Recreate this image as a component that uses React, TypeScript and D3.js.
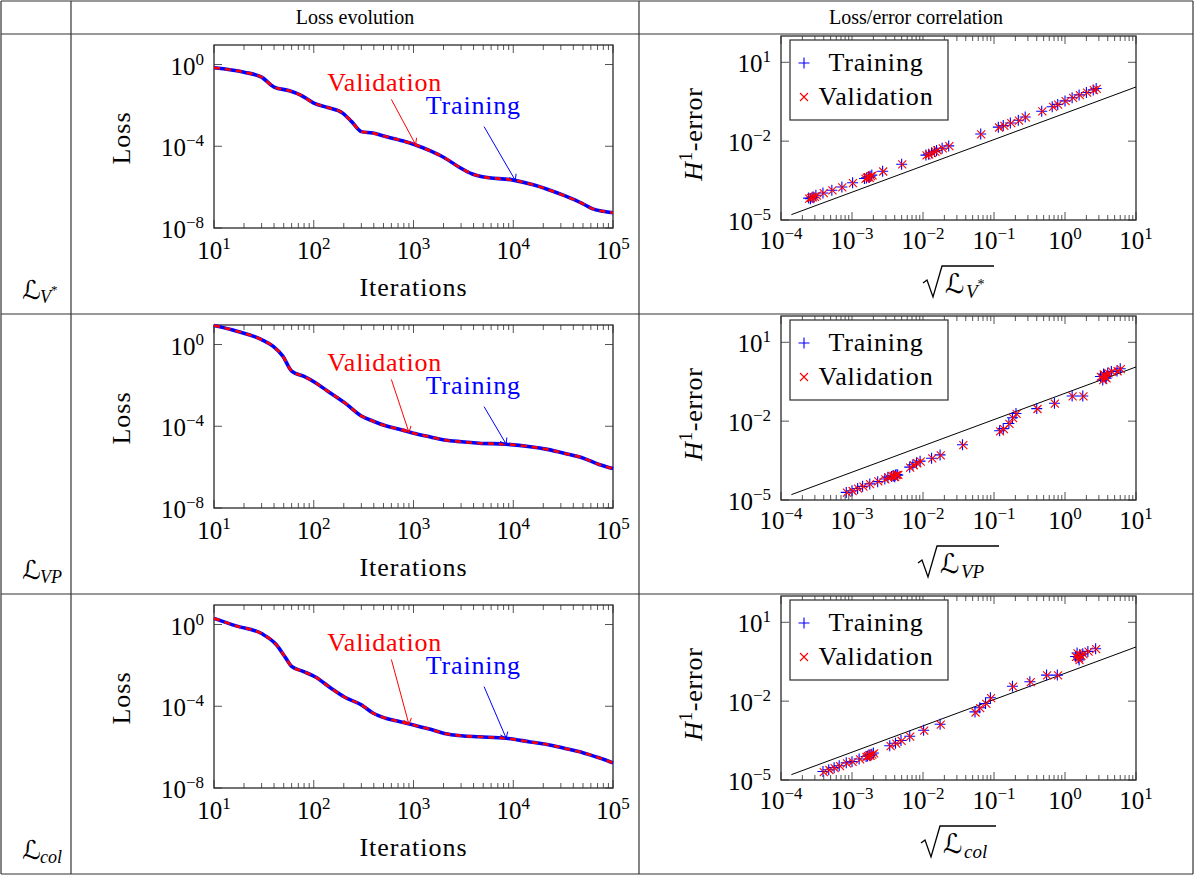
import React from 'react';
import * as d3 from 'd3';

// ---------- data ----------
const columnTitles = ['Loss evolution', 'Loss/error correlation'];
const rowSubs = ['V', 'VP', 'col'];
const rowSups = ['*', '', ''];

// loss evolution (training and validation curves coincide)
const iters1 = [10, 20, 30, 40, 57, 73, 100, 138, 195, 240, 300, 390, 525, 790, 1000, 1480, 2040, 2820, 3890, 4900, 10000, 16200, 21900, 33100, 49000, 61700, 79400, 100000];
const train1 = [0.69, 0.42, 0.24, 0.079, 0.052, 0.033, 0.013, 0.0079, 0.0042, 0.0016, 5.2e-4, 4.4e-4, 3.0e-4, 1.8e-4, 1.26e-4, 5.9e-5, 2.75e-5, 1.0e-5, 4.4e-6, 3.2e-6, 2.2e-6, 1.26e-6, 7.9e-7, 3.7e-7, 1.6e-7, 8.9e-8, 6.6e-8, 5.6e-8];
const valid1 = [0.69, 0.42, 0.24, 0.079, 0.052, 0.033, 0.013, 0.0079, 0.0042, 0.0016, 5.2e-4, 4.4e-4, 3.0e-4, 1.8e-4, 1.26e-4, 5.9e-5, 2.75e-5, 1.0e-5, 4.4e-6, 3.2e-6, 2.2e-6, 1.26e-6, 7.9e-7, 3.7e-7, 1.6e-7, 8.9e-8, 6.6e-8, 5.6e-8];

const iters2 = [10, 17, 30, 39, 49, 60, 79, 104, 138, 205, 300, 390, 525, 720, 1000, 1480, 2040, 3020, 4570, 8500, 14800, 21900, 33100, 49000, 72400, 100000];
const train2 = [8.5, 4.5, 1.74, 0.83, 0.27, 0.05, 0.028, 0.0135, 0.0052, 0.0014, 3.2e-4, 1.8e-4, 1.05e-4, 7.1e-5, 4.6e-5, 3.0e-5, 2.14e-5, 1.74e-5, 1.48e-5, 1.32e-5, 1.0e-5, 7.4e-6, 4.7e-6, 2.9e-6, 1.35e-6, 8.5e-7];
const valid2 = [8.5, 4.5, 1.74, 0.83, 0.27, 0.05, 0.028, 0.0135, 0.0052, 0.0014, 3.2e-4, 1.8e-4, 1.05e-4, 7.1e-5, 4.6e-5, 3.0e-5, 2.14e-5, 1.74e-5, 1.48e-5, 1.32e-5, 1.0e-5, 7.4e-6, 4.7e-6, 2.9e-6, 1.35e-6, 8.5e-7];

const iters3 = [10, 17, 30, 42, 51, 60, 79, 104, 148, 205, 300, 400, 525, 720, 1000, 1480, 2040, 3020, 4570, 8500, 14800, 21900, 33100, 49000, 72400, 100000];
const train3 = [2.0, 0.83, 0.36, 0.105, 0.028, 0.0089, 0.005, 0.0027, 7.8e-4, 2.75e-4, 1.17e-4, 4.4e-5, 2.6e-5, 1.78e-5, 1.2e-5, 7.4e-6, 4.7e-6, 3.6e-6, 3.2e-6, 2.7e-6, 1.8e-6, 1.35e-6, 8.5e-7, 5.5e-7, 3.0e-7, 1.7e-7];
const valid3 = [2.0, 0.83, 0.36, 0.105, 0.028, 0.0089, 0.005, 0.0027, 7.8e-4, 2.75e-4, 1.17e-4, 4.4e-5, 2.6e-5, 1.78e-5, 1.2e-5, 7.4e-6, 4.7e-6, 3.6e-6, 3.2e-6, 2.7e-6, 1.8e-6, 1.35e-6, 8.5e-7, 5.5e-7, 3.0e-7, 1.7e-7];

// annotation anchors [iterations, loss]
const valTextAt = [513, 0.14];
const valArrowFrom = [600, 1.95e-2];
const trainTextAt = [3980, 0.0105];
const trainArrowFrom = [5100, 9.1e-4];
const valTargets = [[1050, 1.2e-4], [900, 5.0e-5], [900, 1.3e-5]];
const trainTargets = [[10500, 2.1e-6], [8500, 1.32e-5], [8500, 2.7e-6]];

const lossYTicks = [1e-8, 1e-4, 1];
const errYTicks = [1e-5, 1e-2, 10];

// loss/error correlation: [sqrt(loss), H1 error]
const corrTrain1 = [[2.45e-4, 6.8e-5], [2.6e-4, 6.5e-5], [2.75e-4, 7.4e-5], [2.9e-4, 7.0e-5], [3.1e-4, 8.7e-5], [3.9e-4, 1.07e-4], [5.2e-4, 1.35e-4], [7.2e-4, 1.8e-4], [1.02e-3, 2.6e-4], [1.5e-3, 3.8e-4], [1.6e-3, 4.0e-4], [1.7e-3, 4.4e-4], [1.75e-3, 4.2e-4], [1.8e-3, 4.6e-4], [1.9e-3, 5.1e-4], [2.7e-3, 7.2e-4], [5.0e-3, 1.32e-3], [1.1e-2, 2.95e-3], [1.2e-2, 3.2e-3], [1.32e-2, 3.6e-3], [1.45e-2, 4.0e-3], [1.55e-2, 4.4e-3], [1.86e-2, 5.4e-3], [2.3e-2, 6.6e-3], [6.5e-2, 1.86e-2], [0.115, 3.4e-2], [0.135, 3.9e-2], [0.17, 4.9e-2], [0.22, 6.2e-2], [0.275, 8.3e-2], [0.47, 0.138], [0.66, 0.204], [0.79, 0.25], [1.0, 0.34], [1.26, 0.45], [1.58, 0.575], [2.0, 0.71], [2.5, 0.89], [2.75, 1.0]];
const corrValid1 = [[2.5e-4, 6.5e-5], [2.65e-4, 7.0e-5], [2.8e-4, 7.2e-5], [3.0e-4, 7.6e-5], [3.2e-4, 8.5e-5], [4.0e-4, 1.05e-4], [5.3e-4, 1.33e-4], [7.3e-4, 1.75e-4], [1.03e-3, 2.55e-4], [1.55e-3, 3.7e-4], [1.62e-3, 4.1e-4], [1.68e-3, 4.3e-4], [1.78e-3, 4.0e-4], [1.85e-3, 4.7e-4], [1.95e-3, 5.0e-4], [2.75e-3, 7.0e-4], [5.1e-3, 1.3e-3], [1.12e-2, 2.9e-3], [1.22e-2, 3.1e-3], [1.35e-2, 3.5e-3], [1.5e-2, 3.9e-3], [1.6e-2, 4.5e-3], [1.9e-2, 5.3e-3], [2.35e-2, 6.5e-3], [6.6e-2, 1.8e-2], [0.118, 3.3e-2], [0.14, 3.8e-2], [0.175, 4.8e-2], [0.225, 6.0e-2], [0.28, 8.0e-2], [0.48, 0.135], [0.68, 0.2], [0.8, 0.245], [1.02, 0.33], [1.3, 0.44], [1.62, 0.56], [2.05, 0.7], [2.55, 0.87], [2.8, 0.97]];

const corrTrain2 = [[8.3e-4, 1.95e-5], [1.0e-3, 2.24e-5], [1.2e-3, 2.75e-5], [1.41e-3, 3.3e-5], [1.78e-3, 4.1e-5], [2.3e-3, 5.0e-5], [2.9e-3, 6.3e-5], [3.2e-3, 7.4e-5], [3.6e-3, 7.9e-5], [3.8e-3, 8.5e-5], [3.9e-3, 8.0e-5], [4.0e-3, 7.6e-5], [4.1e-3, 9.0e-5], [4.3e-3, 9.3e-5], [4.4e-3, 8.8e-5], [6.5e-3, 1.78e-4], [7.2e-3, 2.2e-4], [8.1e-3, 2.6e-4], [9.1e-3, 3.0e-4], [1.32e-2, 3.9e-4], [1.74e-2, 5.2e-4], [3.6e-2, 1.26e-3], [0.12, 4.3e-3], [0.135, 5.2e-3], [0.162, 8.1e-3], [0.182, 1.35e-2], [0.204, 1.95e-2], [0.40, 3.0e-2], [0.71, 4.8e-2], [1.26, 9.1e-2], [1.78, 9.1e-2], [3.16, 0.5], [3.4, 0.37], [3.5, 0.62], [3.55, 0.575], [3.6, 0.52], [3.7, 0.45], [3.8, 0.43], [4.0, 0.68], [4.5, 0.78], [5.4, 0.81], [6.0, 0.98]];
const corrValid2 = [[8.5e-4, 1.9e-5], [1.02e-3, 2.2e-5], [1.22e-3, 2.7e-5], [1.45e-3, 3.2e-5], [1.8e-3, 4.0e-5], [2.35e-3, 5.1e-5], [2.95e-3, 6.1e-5], [3.25e-3, 7.2e-5], [3.65e-3, 8.1e-5], [3.85e-3, 8.3e-5], [3.95e-3, 7.8e-5], [4.05e-3, 7.4e-5], [4.2e-3, 8.8e-5], [4.35e-3, 9.1e-5], [4.5e-3, 9.0e-5], [6.6e-3, 1.72e-4], [7.4e-3, 2.1e-4], [8.3e-3, 2.5e-4], [9.3e-3, 2.9e-4], [1.35e-2, 3.8e-4], [1.78e-2, 5.0e-4], [3.7e-2, 1.22e-3], [0.122, 4.1e-3], [0.138, 5.0e-3], [0.165, 7.8e-3], [0.186, 1.3e-2], [0.208, 1.9e-2], [0.41, 2.9e-2], [0.72, 4.6e-2], [1.28, 8.8e-2], [1.82, 8.8e-2], [3.2, 0.48], [3.45, 0.36], [3.52, 0.6], [3.6, 0.56], [3.65, 0.5], [3.75, 0.44], [3.85, 0.42], [4.1, 0.66], [4.6, 0.76], [5.5, 0.79], [6.1, 0.95]];

const corrTrain3 = [[3.9e-4, 2.1e-5], [4.7e-4, 2.45e-5], [5.6e-4, 2.95e-5], [6.6e-4, 3.5e-5], [8.3e-4, 4.5e-5], [1.0e-3, 5.0e-5], [1.26e-3, 6.3e-5], [1.58e-3, 7.8e-5], [1.65e-3, 8.2e-5], [1.74e-3, 9.1e-5], [1.8e-3, 8.5e-5], [1.9e-3, 9.6e-5], [2.0e-3, 1.07e-4], [3.4e-3, 2.0e-4], [4.1e-3, 2.5e-4], [4.9e-3, 3.2e-4], [6.5e-3, 4.6e-4], [1.02e-2, 7.8e-4], [1.74e-2, 1.32e-3], [5.4e-2, 3.9e-3], [6.3e-2, 5.6e-3], [7.6e-2, 8.1e-3], [8.9e-2, 1.35e-2], [0.182, 3.7e-2], [0.32, 5.5e-2], [0.55, 9.8e-2], [0.78, 9.8e-2], [1.41, 0.5], [1.48, 0.68], [1.55, 0.45], [1.58, 0.37], [1.6, 0.58], [1.66, 0.55], [1.78, 0.63], [2.1, 0.78], [2.7, 0.98]];
const corrValid3 = [[4.0e-4, 2.0e-5], [4.8e-4, 2.4e-5], [5.7e-4, 2.85e-5], [6.8e-4, 3.4e-5], [8.5e-4, 4.3e-5], [1.02e-3, 4.9e-5], [1.3e-3, 6.1e-5], [1.6e-3, 7.5e-5], [1.68e-3, 8.0e-5], [1.77e-3, 8.8e-5], [1.83e-3, 8.3e-5], [1.93e-3, 9.3e-5], [2.05e-3, 1.04e-4], [3.5e-3, 1.95e-4], [4.2e-3, 2.4e-4], [5.0e-3, 3.1e-4], [6.6e-3, 4.5e-4], [1.04e-2, 7.5e-4], [1.78e-2, 1.28e-3], [5.5e-2, 3.7e-3], [6.4e-2, 5.4e-3], [7.8e-2, 7.8e-3], [9.1e-2, 1.3e-2], [0.186, 3.6e-2], [0.33, 5.3e-2], [0.56, 9.5e-2], [0.8, 9.5e-2], [1.43, 0.48], [1.5, 0.66], [1.57, 0.43], [1.6, 0.36], [1.63, 0.56], [1.7, 0.53], [1.82, 0.61], [2.15, 0.76], [2.75, 0.95]];

// reference line of slope one
const refLine = [[1.4e-4, 1.6e-5], [10, 1.15]];

const lossRows = [
  { iters: iters1, train: train1, valid: valid1 },
  { iters: iters2, train: train2, valid: valid2 },
  { iters: iters3, train: train3, valid: valid3 },
];
const corrRows = [
  { train: corrTrain1, valid: corrValid1 },
  { train: corrTrain2, valid: corrValid2 },
  { train: corrTrain3, valid: corrValid3 },
];

// ---------- layout ----------
const FONT = '"Liberation Serif", "Times New Roman", serif';
const SCRIPT = '"DejaVu Serif", "DejaVu Sans", serif';
const rowTops = [34, 314, 594];
const BLUE = '#0000ff';
const RED = '#ff0000';
const AXIS = '#2a2a2a';
const TICK = '#555';

function expText(v: number) {
  const e = Math.round(Math.log10(v));
  return e < 0 ? '\u2212' + -e : String(e);
}

function isDecade(v: number) {
  const l = Math.log10(v);
  return Math.abs(l - Math.round(l)) < 1e-6;
}

function Pow({ x, y, v, anchor }: { x: number; y: number; v: number; anchor: string }) {
  return (
    <text x={x} y={y} textAnchor={anchor} fontSize={25} fill="#000">
      10<tspan dy={-10} fontSize={17}>{expText(v)}</tspan>
    </text>
  );
}

function LossPanel({ top, row }: { top: number; row: number }) {
  const { iters, train, valid } = lossRows[row];
  const left = 214, right = 613, bottom = top + 194, upper = top + 11;
  const x = d3.scaleLog().domain([10, 1e5]).range([left, right]);
  const y = d3.scaleLog().domain([1e-8, 9]).range([bottom, upper]);
  const line = d3.line<number>().x((_, i) => x(iters[i])).y(d => y(d)).curve(d3.curveMonotoneX);
  const xt = x.ticks();
  const vt = valTargets[row];
  const tt = trainTargets[row];
  return (
    <g>
      {xt.map((t, i) => {
        const len = isDecade(t) ? 8 : 5;
        return (
          <g key={'xt' + i} stroke={TICK} strokeWidth={1}>
            <line x1={x(t)} x2={x(t)} y1={bottom} y2={bottom - len} />
            <line x1={x(t)} x2={x(t)} y1={upper} y2={upper + len} />
          </g>
        );
      })}
      {lossYTicks.map((t, i) => (
        <g key={'yt' + i} stroke={TICK} strokeWidth={1}>
          <line x1={left} x2={left + 8} y1={y(t)} y2={y(t)} />
          <line x1={right} x2={right - 8} y1={y(t)} y2={y(t)} />
        </g>
      ))}
      <rect x={left} y={upper} width={right - left} height={bottom - upper} fill="none" stroke={AXIS} strokeWidth={1.3} />
      <path d={line(train) || ''} fill="none" stroke={BLUE} strokeWidth={3.6} strokeLinejoin="round" />
      <path d={line(valid) || ''} fill="none" stroke={RED} strokeWidth={2.6} strokeDasharray="6 5" />
      {xt.filter(isDecade).map((t, i) => (
        <Pow key={'xl' + i} x={x(t)} y={bottom + 31} v={t} anchor="middle" />
      ))}
      {lossYTicks.map((t, i) => (
        <Pow key={'yl' + i} x={left - 10} y={y(t) + 10} v={t} anchor="end" />
      ))}
      <text x={(left + right) / 2} y={top + 262} textAnchor="middle" fontSize={26} letterSpacing={1}>Iterations</text>
      <text transform={`translate(130,${top + 104}) rotate(-90)`} textAnchor="middle" fontSize={26} letterSpacing={1}>Loss</text>
      <text x={x(valTextAt[0])} y={y(valTextAt[1]) + 9} textAnchor="middle" fontSize={26} letterSpacing={0.8} fill={RED}>Validation</text>
      <line x1={x(valArrowFrom[0])} y1={y(valArrowFrom[1])} x2={x(vt[0])} y2={y(vt[1])} stroke={RED} strokeWidth={1} markerEnd="url(#tipRed)" />
      <text x={x(trainTextAt[0])} y={y(trainTextAt[1]) + 9} textAnchor="middle" fontSize={26} letterSpacing={0.8} fill={BLUE}>Training</text>
      <line x1={x(trainArrowFrom[0])} y1={y(trainArrowFrom[1])} x2={x(tt[0])} y2={y(tt[1])} stroke={BLUE} strokeWidth={1} markerEnd="url(#tipBlue)" />
    </g>
  );
}

function Plus({ cx, cy }: { cx: number; cy: number }) {
  return <path d={`M${cx - 5.5},${cy}H${cx + 5.5}M${cx},${cy - 5.5}V${cy + 5.5}`} stroke={BLUE} strokeWidth={1.1} />;
}
function Cross({ cx, cy }: { cx: number; cy: number }) {
  return <path d={`M${cx - 4},${cy - 4}L${cx + 4},${cy + 4}M${cx - 4},${cy + 4}L${cx + 4},${cy - 4}`} stroke={RED} strokeWidth={1.1} />;
}

const sqrtSubWidths = [28, 38, 32];

function CorrPanel({ top, row }: { top: number; row: number }) {
  const { train, valid } = corrRows[row];
  const left = 781, right = 1136, bottom = top + 186, upper = top + 2;
  const x = d3.scaleLog().domain([1e-4, 10]).range([left, right]);
  const y = d3.scaleLog().domain([1e-5, 100]).range([bottom, upper]);
  const xt = x.ticks();
  const line = d3.line<number[]>().x(d => x(d[0])).y(d => y(d[1]));
  const w = 22 + 21 + sqrtSubWidths[row];
  const lx = (left + right) / 2 - w / 2;
  const base = top + 259;
  return (
    <g>
      {xt.map((t, i) => {
        const len = isDecade(t) ? 8 : 5;
        return (
          <g key={'xt' + i} stroke={TICK} strokeWidth={1}>
            <line x1={x(t)} x2={x(t)} y1={bottom} y2={bottom - len} />
            <line x1={x(t)} x2={x(t)} y1={upper} y2={upper + len} />
          </g>
        );
      })}
      {errYTicks.map((t, i) => (
        <g key={'yt' + i} stroke={TICK} strokeWidth={1}>
          <line x1={left} x2={left + 8} y1={y(t)} y2={y(t)} />
          <line x1={right} x2={right - 8} y1={y(t)} y2={y(t)} />
        </g>
      ))}
      <rect x={left} y={upper} width={right - left} height={bottom - upper} fill="none" stroke={AXIS} strokeWidth={1.3} />
      <path d={line(refLine) || ''} fill="none" stroke="#000" strokeWidth={1} />
      {train.map((d, i) => <Plus key={'p' + i} cx={x(d[0])} cy={y(d[1])} />)}
      {valid.map((d, i) => <Cross key={'c' + i} cx={x(d[0])} cy={y(d[1])} />)}
      {xt.filter(isDecade).map((t, i) => (
        <Pow key={'xl' + i} x={x(t)} y={bottom + 29} v={t} anchor="middle" />
      ))}
      {errYTicks.map((t, i) => (
        <Pow key={'yl' + i} x={left - 10} y={y(t) + 10} v={t} anchor="end" />
      ))}
      {/* legend */}
      <rect x={left + 9} y={top + 6} width={158} height={80} fill="#fff" stroke={AXIS} strokeWidth={1.2} />
      <Plus cx={left + 23} cy={top + 29} />
      <text x={left + 95} y={top + 37} textAnchor="middle" fontSize={26} letterSpacing={0.8}>Training</text>
      <Cross cx={left + 23} cy={top + 63} />
      <text x={left + 95} y={top + 71} textAnchor="middle" fontSize={26} letterSpacing={0.8}>Validation</text>
      {/* y label */}
      <text transform={`translate(702,${top + 100}) rotate(-90)`} textAnchor="middle" fontSize={26} letterSpacing={0.8}>
        <tspan fontStyle="italic">H</tspan>
        <tspan dy={-10} fontSize={18}>1</tspan>
        <tspan dy={10}>-error</tspan>
      </text>
      {/* x label: sqrt(L_sub) */}
      <path d={`M${lx},${base - 10} L${lx + 4},${base - 13} L${lx + 10},${base + 4} L${lx + 19},${base - 27} H${lx + w}`} fill="none" stroke="#000" strokeWidth={1.3} />
      <text x={lx + 22} y={base} fontSize={27} fontFamily={SCRIPT}>{'\u2112'}</text>
      <text x={lx + 43} y={base + 5} fontSize={19} fontStyle="italic">
        {rowSubs[row]}
        {rowSups[row] ? <tspan dy={-9} fontSize={14} fontStyle="normal">{rowSups[row]}</tspan> : null}
      </text>
    </g>
  );
}

export default function App() {
  return (
    <svg width={1194} height={875} style={{ position: 'absolute', left: 0, top: 0, background: '#fff' }} fontFamily={FONT}>
      <defs>
        <marker id="tipRed" viewBox="-7 -5 8 10" refX={0} refY={0} markerWidth={8} markerHeight={10} orient="auto" markerUnits="userSpaceOnUse">
          <path d="M-5.5,-4 Q-1.5,-1 0,0 Q-1.5,1 -5.5,4" fill="none" stroke={RED} strokeWidth={1} />
        </marker>
        <marker id="tipBlue" viewBox="-7 -5 8 10" refX={0} refY={0} markerWidth={8} markerHeight={10} orient="auto" markerUnits="userSpaceOnUse">
          <path d="M-5.5,-4 Q-1.5,-1 0,0 Q-1.5,1 -5.5,4" fill="none" stroke={BLUE} strokeWidth={1} />
        </marker>
      </defs>
      <rect x={0} y={0} width={1194} height={875} fill="#fff" />
      {/* table grid */}
      <g stroke="#333" strokeWidth={1.2}>
        {[1, 71, 639, 1193].map(xv => <line key={'v' + xv} x1={xv} x2={xv} y1={1} y2={874} />)}
        {[1, 34, 314, 594, 874].map(yv => <line key={'h' + yv} x1={1} x2={1193} y1={yv} y2={yv} />)}
      </g>
      <text x={355} y={24} textAnchor="middle" fontSize={20}>{columnTitles[0]}</text>
      <text x={916} y={24} textAnchor="middle" fontSize={20}>{columnTitles[1]}</text>
      {rowTops.map((top, r) => (
        <g key={'row' + r}>
          <text x={22} y={top + 265} fontSize={26} fontFamily={SCRIPT}>{'\u2112'}</text>
          <text x={40} y={top + 269} fontSize={18} fontStyle="italic">
            {rowSubs[r]}
            {rowSups[r] ? <tspan dy={-9} fontSize={13} fontStyle="normal">{rowSups[r]}</tspan> : null}
          </text>
          <LossPanel top={top} row={r} />
          <CorrPanel top={top} row={r} />
        </g>
      ))}
    </svg>
  );
}
